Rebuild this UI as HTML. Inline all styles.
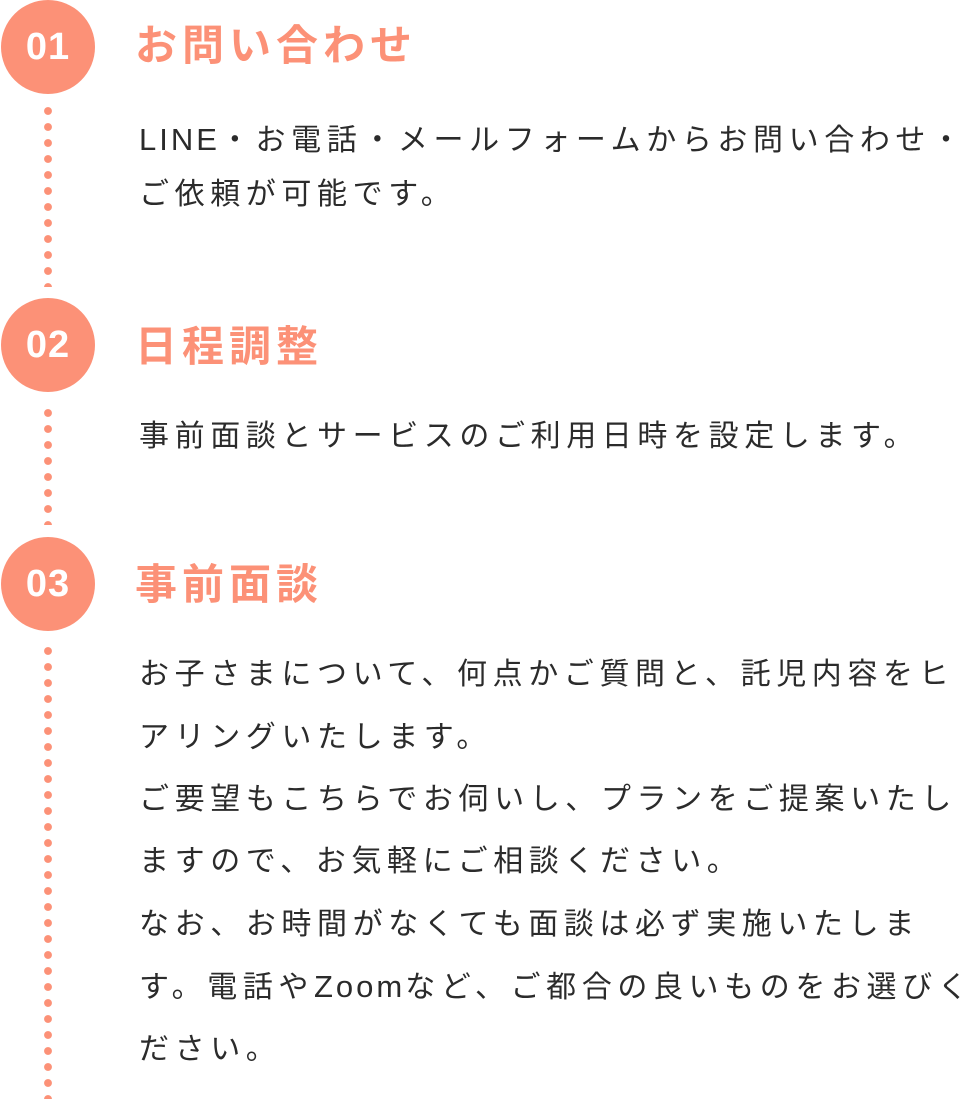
<!DOCTYPE html>
<html><head><meta charset="utf-8"><style>
body{margin:0;width:968px;height:1099px;background:#fff;position:relative;overflow:hidden;font-family:"Liberation Sans","Noto Sans CJK JP",sans-serif}
.c{position:absolute;left:1px;width:94px;height:94px;border-radius:50%;background:#fc9177;color:#fff;font:bold 38px/94px "Liberation Sans",sans-serif;text-align:center;letter-spacing:1px}
.d{position:absolute;left:44px;width:8px;background:radial-gradient(circle,#fc9177 3.6px,transparent 4.2px) 0 0/8px 16px repeat-y}
.t{position:absolute;left:135px;color:#fc9177;font-weight:bold;font-size:42px;letter-spacing:5px;line-height:50px;white-space:nowrap}
.b{position:absolute;left:139px;color:#2b2b2b;font-size:30px;letter-spacing:5.6px;line-height:32px;white-space:nowrap}
.l{letter-spacing:3px;font-size:31px}
</style></head><body>
<div class="c" style="top:0">01</div>
<div class="d" style="top:103px;height:184px"></div>
<div class="t" style="top:21px">お問い合わせ</div>
<div class="b" style="top:124px"><span class="l">LINE</span>・お電話・メールフォームからお問い合わせ・</div>
<div class="b" style="top:179px">ご依頼が可能です。</div>

<div class="c" style="top:298px">02</div>
<div class="d" style="top:405px;height:120px"></div>
<div class="t" style="top:322px">日程調整</div>
<div class="b" style="top:421px">事前面談とサービスのご利用日時を設定します。</div>

<div class="c" style="top:537px">03</div>
<div class="d" style="top:643px;height:456px"></div>
<div class="t" style="top:560px">事前面談</div>
<div class="b" style="top:659px">お子さまについて、何点かご質問と、託児内容をヒ</div>
<div class="b" style="top:722px">アリングいたします。</div>
<div class="b" style="top:784px">ご要望もこちらでお伺いし、プランをご提案いたし</div>
<div class="b" style="top:846px">ますので、お気軽にご相談ください。</div>
<div class="b" style="top:909px">なお、お時間がなくても面談は必ず実施いたしま</div>
<div class="b" style="top:971px">す。電話や<span class="l">Zoom</span>など、ご都合の良いものをお選びく</div>
<div class="b" style="top:1034px">ださい。</div>
</body></html>
